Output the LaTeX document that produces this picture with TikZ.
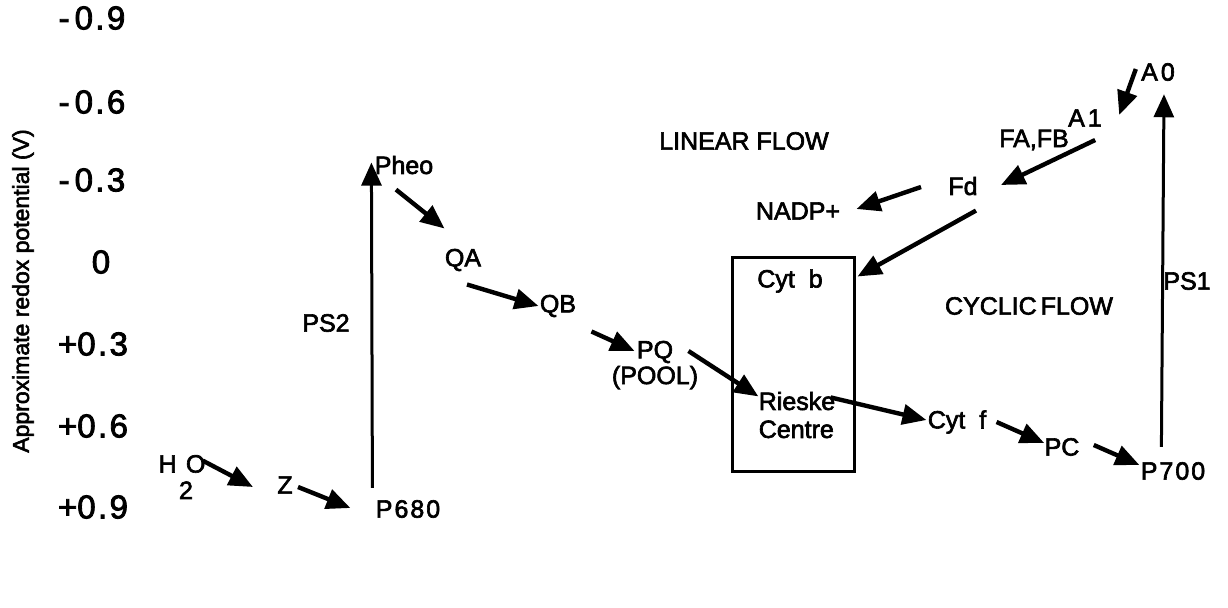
\documentclass[tikz,border=0pt]{standalone}
\usepackage{fontspec}
\setmainfont{Liberation Sans}[FakeBold=2.5]
\usetikzlibrary{arrows.meta,positioning}
\newcommand\spc{\kern1.2pt}
\tikzset{carrier/.style={inner sep=0pt,font=\fontsize{12.5}{14}\selectfont},
tick/.style={inner sep=0pt,font=\fontsize{16.5}{18}\selectfont},
flow/.style={-{Triangle[length=12pt,width=10pt]},line width=2.2pt},
pump/.style={-{Triangle[length=11.5pt,width=10pt]},line width=1.5pt}}

\begin{document}
\begin{tikzpicture}[x=0.5pt,y=-0.5pt]
\useasboundingbox (0,0) rectangle (1228,607);
% potential scale
\foreach \v/\x/\y [count=\i] in {{-\kern2.5pt0\spc.\spc9}/92/18,{-\kern2.5pt0\spc.\spc6}/92/102,
  {-\kern2.5pt0\spc.\spc3}/92/180,0/101/262,{+0\spc.\spc3}/93/344,{+0\spc.\spc6}/93/426,{+0\spc.\spc9}/93/507}
  \node[tick] (tick\i) at (\x,\y) {\v};
\node[inner sep=0pt,rotate=90,font=\fontsize{11.5}{13}\selectfont] (axis) at (23,291)
  {Approximate redox potential (V)};
% photosystem II side
\node[carrier] (h2o) at (182,477) {H\kern1.2pt\raisebox{-2ex}{2}\kern-3.5pt O};
\node[carrier] (z) at (285,485) {Z};
\node[carrier] (p680) at (408,509) {P\kern1pt6\kern1pt8\kern1pt0};
\node[carrier] (pheo) at (404,165) {Pheo};
\node[carrier] (ps2lab) at (326,323) {PS2};
\node[carrier] (qa) at (463,260) {QA};
\node[carrier] (qb) at (558,306) {QB};
\node[carrier] (pq) at (655,352) {PQ};
\node[carrier,below=1pt of pq] (pool) {(POOL)};
% cytochrome complex
\node[draw,line width=1.5pt,minimum width=61pt,minimum height=107pt,inner sep=0pt] (cytbox) at (793,364) {};
\node[carrier] (cytb) at (790,281) {Cyt~~b};
\node[carrier,align=left] (rieske) at (797,415) {Rieske\\Centre};
% photosystem I side
\node[carrier] (cytf) at (957,422) {Cyt~~f};
\node[carrier] (pc) at (1062,447) {PC};
\node[carrier] (p700) at (1173,471) {P\kern1pt7\kern1pt0\kern1pt0};
\node[carrier] (ps1lab) at (1187,281) {PS1};
\node[carrier] (a0) at (1158,72) {A\kern1.5pt0};
\node[carrier] (a1) at (1085,118) {A\kern1.5pt1};
\node[carrier] (fafb) at (1034,140) {FA,FB};
\node[carrier] (fd) at (963,186) {Fd};
\node[carrier] (nadp) at (798,211) {NADP+};
\node[carrier] (linflow) at (744,141) {LINEAR FLOW};
\node[carrier] (cycflow) at (1029,306) {CYCLIC\kern2pt FLOW};
% electron transfers
\draw[flow] ([shift={(-3,6)}]h2o.north east) -- ([shift={(-24,2)}]z.west);
\draw[flow] ([shift={(5,2)}]z.east) -- ([shift={(-25,-1)}]p680.west);
\draw[pump] ([shift={(-3,-12)}]p680.north west) -- ([shift={(-3,-12)}]pheo.south west);
\draw[flow] ([shift={(-8,15)}]pheo.south) -- ([shift={(0,-20)}]qa.north west);
\draw[flow] ([shift={(4,13)}]qa.south) -- ([shift={(-1,0)}]qb.west);
\draw[flow] ([shift={(15,14)}]qb.south east) -- ([shift={(-2,-1)}]pq.west);
\draw[flow] ([shift={(15,-1)}]pq.east) -- ([shift={(0,5)}]rieske.north west);
\draw[flow] ([shift={(-5,6)}]rieske.north east) -- ([shift={(-1,-2)}]cytf.west);
\draw[flow] ([shift={(10,0)}]cytf.east) -- ([shift={(0,-4)}]pc.west);
\draw[flow] ([shift={(14,-2)}]pc.east) -- ([shift={(-1,-6)}]p700.west);
\draw[pump] ([shift={(21,-15)}]p700.north west) -- ([shift={(6,13)}]a0.south);
\draw[flow] ([shift={(-5,-3)}]a0.west) -- ([shift={(17,-3)}]a1.east);
\draw[flow] ([shift={(-7,13)}]a1.south east) -- ([shift={(23,-1)}]fd.east);
\draw[flow] ([shift={(-27,1)}]fd.west) -- ([shift={(16,-2)}]nadp.east);
\draw[flow] ([shift={(-2,15)}]fd.south east) -- ([shift={(2,21)}]cytbox.north east);
\end{tikzpicture}
\end{document}
